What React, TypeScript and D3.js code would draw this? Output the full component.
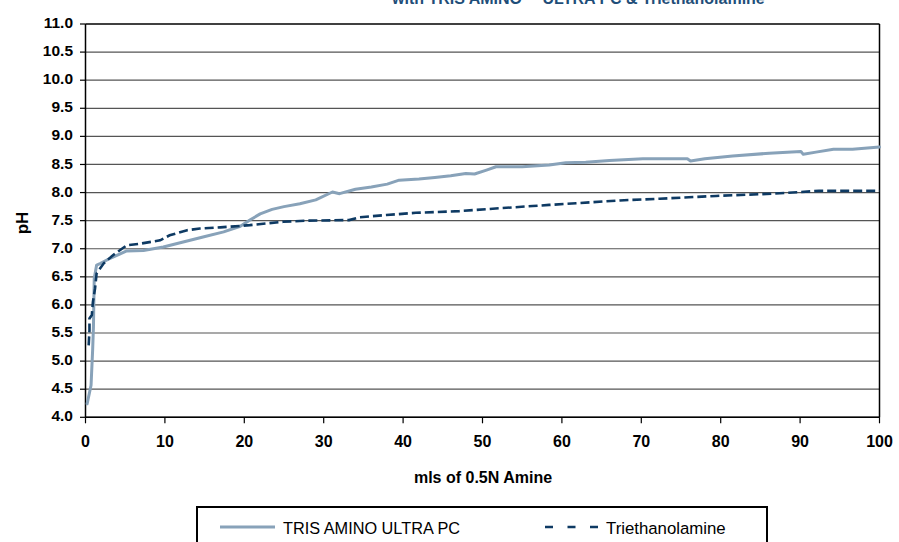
import * as d3 from "d3";

// TRIS AMINO ULTRA PC titration curve (mls, pH)
const trisMls = [0.2, 0.7, 0.9, 1.0, 1.1, 1.4, 1.9, 3.1, 5.2, 7.3, 9.8, 12.3, 14.8, 17.4, 19.5, 20.7, 22.0, 23.5, 25.0, 27.0, 29.0, 31.1, 32.0, 34.0, 36.0, 38.0, 39.5, 42.0, 44.0, 46.0, 47.9, 49.0, 50.5, 51.7, 53.0, 55.0, 58.4, 60.5, 63.0, 66.0, 70.2, 74.0, 75.8, 76.2, 78.0, 81.5, 86.1, 90.1, 90.4, 92.0, 94.2, 96.6, 100];
const trisPh = [4.24, 4.57, 5.2, 5.61, 6.47, 6.71, 6.74, 6.83, 6.96, 6.97, 7.03, 7.12, 7.21, 7.30, 7.40, 7.51, 7.62, 7.70, 7.75, 7.80, 7.87, 8.01, 7.98, 8.06, 8.10, 8.15, 8.22, 8.24, 8.27, 8.30, 8.34, 8.33, 8.40, 8.46, 8.46, 8.46, 8.49, 8.53, 8.54, 8.57, 8.60, 8.60, 8.60, 8.56, 8.60, 8.65, 8.70, 8.73, 8.68, 8.72, 8.77, 8.77, 8.81];

// Triethanolamine titration curve (mls, pH)
const teaMls = [0.4, 0.5, 0.5, 0.8, 0.93, 1.2, 1.4, 2.3, 3.5, 5.2, 6.9, 9.4, 10.6, 12.8, 14.4, 17.0, 20.7, 24.9, 28.0, 33.2, 34.5, 37.9, 41.6, 47.1, 52.1, 56.3, 58.4, 61.8, 67.3, 72.3, 79.4, 86.5, 92.4, 100];
const teaPh = [5.28, 5.55, 5.76, 5.82, 6.05, 6.29, 6.56, 6.74, 6.89, 7.06, 7.09, 7.15, 7.24, 7.33, 7.36, 7.38, 7.42, 7.48, 7.50, 7.51, 7.56, 7.60, 7.64, 7.67, 7.72, 7.76, 7.78, 7.81, 7.86, 7.89, 7.94, 7.98, 8.03, 8.03];

const xTicks = [0, 10, 20, 30, 40, 50, 60, 70, 80, 90, 100];
const yTicks = [4.0, 4.5, 5.0, 5.5, 6.0, 6.5, 7.0, 7.5, 8.0, 8.5, 9.0, 9.5, 10.0, 10.5, 11.0];

const seriesNames = ["TRIS AMINO ULTRA PC", "Triethanolamine"];
const titleText = "with TRIS AMINO\u2122 ULTRA PC & Triethanolamine";

const W = 899;
const H = 542;
const font = "'Liberation Sans', Arial, sans-serif";
const trisColor = "#88a2b9";
const teaColor = "#0e3a63";

const App = () => {
    const x = d3.scaleLinear().domain([0, 100]).range([85.5, 879.5]);
    const y = d3.scaleLinear().domain([4, 11]).range([417.3, 24]);

    const line = d3.line<[number, number]>()
        .x((d) => x(d[0]))
        .y((d) => y(d[1]));

    const trisPts = trisMls.map((m, i) => [m, trisPh[i]] as [number, number]);
    const teaPts = teaMls.map((m, i) => [m, teaPh[i]] as [number, number]);

    const [x0, x1] = x.range();
    const [yb, yt] = y.range();

    return (
        <svg
            width={W}
            height={H}
            style={{ position: "absolute", left: 0, top: 0, display: "block", background: "#fff", overflow: "hidden" }}
            fontFamily={font}
        >
            {/* Title (top cut off as in the original) */}
            <text x={392} y={4} fontSize={16} fontWeight="bold" fill="#1f4e79">
                {titleText}
            </text>

            {/* Grid lines */}
            {yTicks.map((t) => (
                <line key={"g" + t} x1={x0} x2={x1} y1={y(t)} y2={y(t)} stroke={t === 11 || t === 4 ? "#000" : "#555"} strokeWidth={t === 11 ? 1.5 : 1.2} />
            ))}

            {/* Frame */}
            <line x1={x1} x2={x1} y1={yt} y2={yb} stroke="#000" strokeWidth={1.5} />
            <line x1={x0} x2={x0} y1={yt} y2={yb} stroke="#000" strokeWidth={1.5} />
            <line x1={x0} x2={x1} y1={yb} y2={yb} stroke="#000" strokeWidth={1.5} />

            {/* Y ticks */}
            {yTicks.map((t) => (
                <g key={"y" + t}>
                    <line x1={x0 - 5.5} x2={x0} y1={y(t)} y2={y(t)} stroke="#000" strokeWidth={1.2} />
                    <text x={73} y={y(t)} textAnchor="end" dominantBaseline="middle" fontSize={15.5} fontWeight="bold" fill="#000">
                        {d3.format(".1f")(t)}
                    </text>
                </g>
            ))}

            {/* X ticks */}
            {xTicks.map((t) => (
                <g key={"x" + t}>
                    <line x1={x(t)} x2={x(t)} y1={yb} y2={yb + 6} stroke="#000" strokeWidth={1.2} />
                    <text x={x(t)} y={447} textAnchor="middle" fontSize={16} fontWeight="bold" fill="#000">
                        {t}
                    </text>
                </g>
            ))}

            {/* Axis titles */}
            <text x={483} y={483} textAnchor="middle" fontSize={16} fontWeight="bold" fill="#000">
                mls of 0.5N Amine
            </text>
            <text transform="translate(28,223) rotate(-90)" textAnchor="middle" fontSize={17} fontWeight="bold" fill="#000">
                pH
            </text>

            {/* Series */}
            <path d={line(trisPts) || ""} fill="none" stroke={trisColor} strokeWidth={3} strokeLinejoin="round" strokeLinecap="round" />
            <path d={line(teaPts) || ""} fill="none" stroke={teaColor} strokeWidth={2.6} strokeDasharray="9,4" />

            {/* Legend */}
            <rect x={197} y={507} width={570} height={60} fill="#fff" stroke="#000" strokeWidth={2} />
            <line x1={220} x2={275} y1={527} y2={527} stroke={trisColor} strokeWidth={3} />
            <text x={283} y={534} fontSize={16.3} fill="#000">{seriesNames[0]}</text>
            <line x1={545} x2={600} y1={527} y2={527} stroke={teaColor} strokeWidth={2.6} strokeDasharray="8,14.5" />
            <text x={606} y={534} fontSize={16.8} fill="#000">{seriesNames[1]}</text>
        </svg>
    );
};

export default App;
